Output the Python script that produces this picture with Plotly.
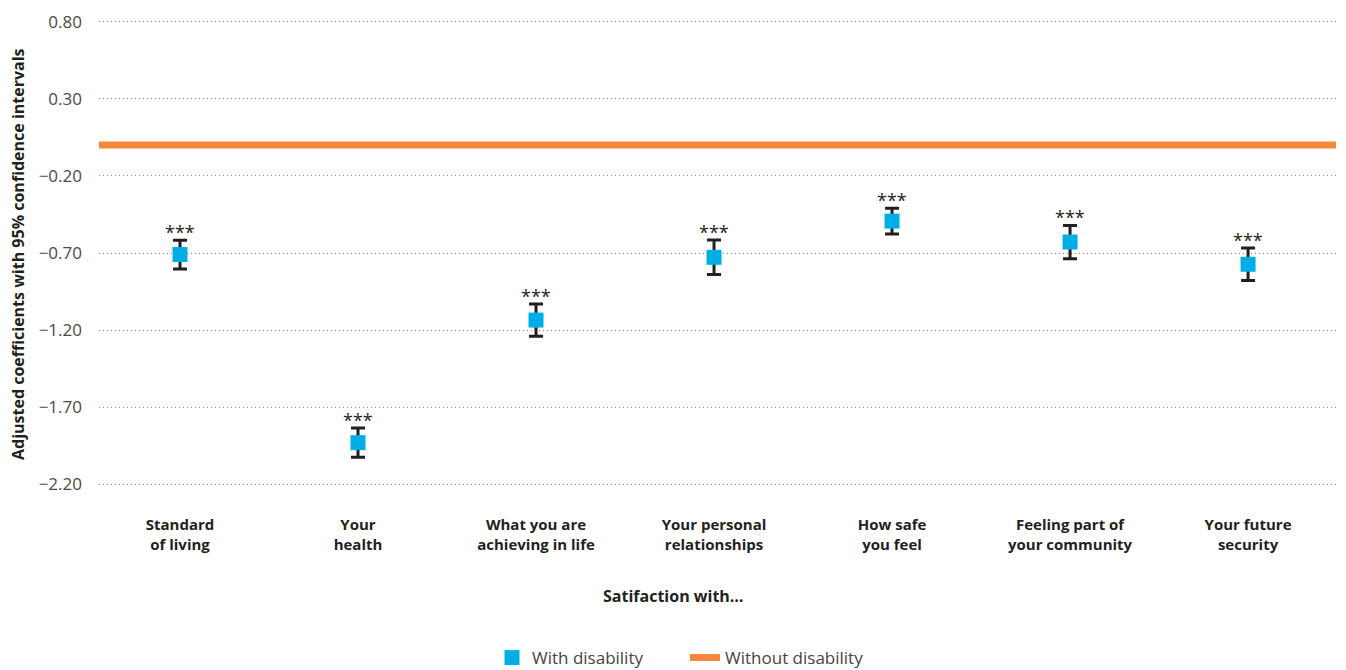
import plotly.graph_objects as go

categories = ["Standard<br>of living", "Your<br>health", "What you are<br>achieving in life",
              "Your personal<br>relationships", "How safe<br>you feel",
              "Feeling part of<br>your community", "Your future<br>security"]
with_disability = [-0.71, -1.93, -1.135, -0.728, -0.493, -0.629, -0.773]
ci_half = [0.093, 0.095, 0.105, 0.112, 0.084, 0.108, 0.105]
significance = ["***"] * 7
without_disability = 0.0
y_ticks = [0.80, 0.30, -0.20, -0.70, -1.20, -1.70, -2.20]

x_pos = list(range(len(categories)))
x_range = [-0.455, len(categories) - 1 + 0.494]
upper = [v + e for v, e in zip(with_disability, ci_half)]

L, R, T, B = 99, 10, 14, 178
PH = 670 - T - B

fig = go.Figure()

fig.add_trace(go.Scatter(
    x=x_range, y=[without_disability] * 2, mode="lines",
    line=dict(color="#F5873A", width=7), name="Without disability",
    hoverinfo="skip",
))

fig.add_trace(go.Scatter(
    x=x_pos, y=with_disability, mode="markers", name="With disability",
    marker=dict(symbol="square", size=15, color="#00AEE5"),
    error_y=dict(type="data", array=ci_half, visible=True, color="#231F20",
                 thickness=3, width=7),
))

star_annotations = [
    dict(x=xp, y=u, xref="x", yref="y", text=s, showarrow=False,
         xanchor="center", yanchor="bottom", yshift=-6,
         font=dict(family="Open Sans", size=18, color="#231F20"))
    for xp, u, s in zip(x_pos, upper, significance)
]

fig.update_layout(
    width=1346, height=670,
    margin=dict(l=L, r=R, t=T, b=B),
    plot_bgcolor="white", paper_bgcolor="white",
    font=dict(family="Open Sans", color="#444"),
    showlegend=True,
    legend=dict(orientation="h", xref="container", yref="container",
                x=492 / 1346, y=(670 - 658) / 670, xanchor="left", yanchor="middle",
                font=dict(family="Open Sans", size=17, color="#444"), itemwidth=30,
                entrywidth=148, entrywidthmode="pixels",
                traceorder="reversed"),
    xaxis=dict(range=x_range, tickmode="array", tickvals=x_pos, ticktext=categories,
               showgrid=False, zeroline=False, showline=False, ticks="",
               automargin=False,
               tickfont=dict(family="Open Sans", size=15, color="#231F20", weight="bold"),
               ticklabelstandoff=22),
    yaxis=dict(range=[-2.25, 0.85], tickmode="array", tickvals=y_ticks,
               ticktext=[f"{t:.2f}".replace("-", "\u2212") for t in y_ticks],
               showgrid=True, gridcolor="#8f8f8f", griddash="1px,3px", gridwidth=1.3,
               zeroline=False, showline=False, ticks="", automargin=False,
               tickfont=dict(family="Open Sans", size=17, color="#4a4a4a"),
               ticklabelstandoff=16),
    annotations=star_annotations + [
        dict(text="<b>Satifaction with…</b>", xref="paper", yref="paper",
             x=(673.5 - L) / (1346 - L - R), y=(670 - B - 596) / PH,
             showarrow=False, xanchor="center", yanchor="middle",
             font=dict(family="Open Sans", size=16, color="#231F20")),
        dict(text="<b>Adjusted coefficients with 95% confidence intervals</b>",
             xref="paper", yref="paper", textangle=-90,
             x=(18 - L) / (1346 - L - R), y=(670 - B - 254) / PH,
             showarrow=False, xanchor="center", yanchor="middle",
             font=dict(family="Open Sans", size=16, color="#231F20")),
    ],
)

fig.write_html("out.html", config={"displayModeBar": False},
               post_script="document.body.style.margin='0';")
